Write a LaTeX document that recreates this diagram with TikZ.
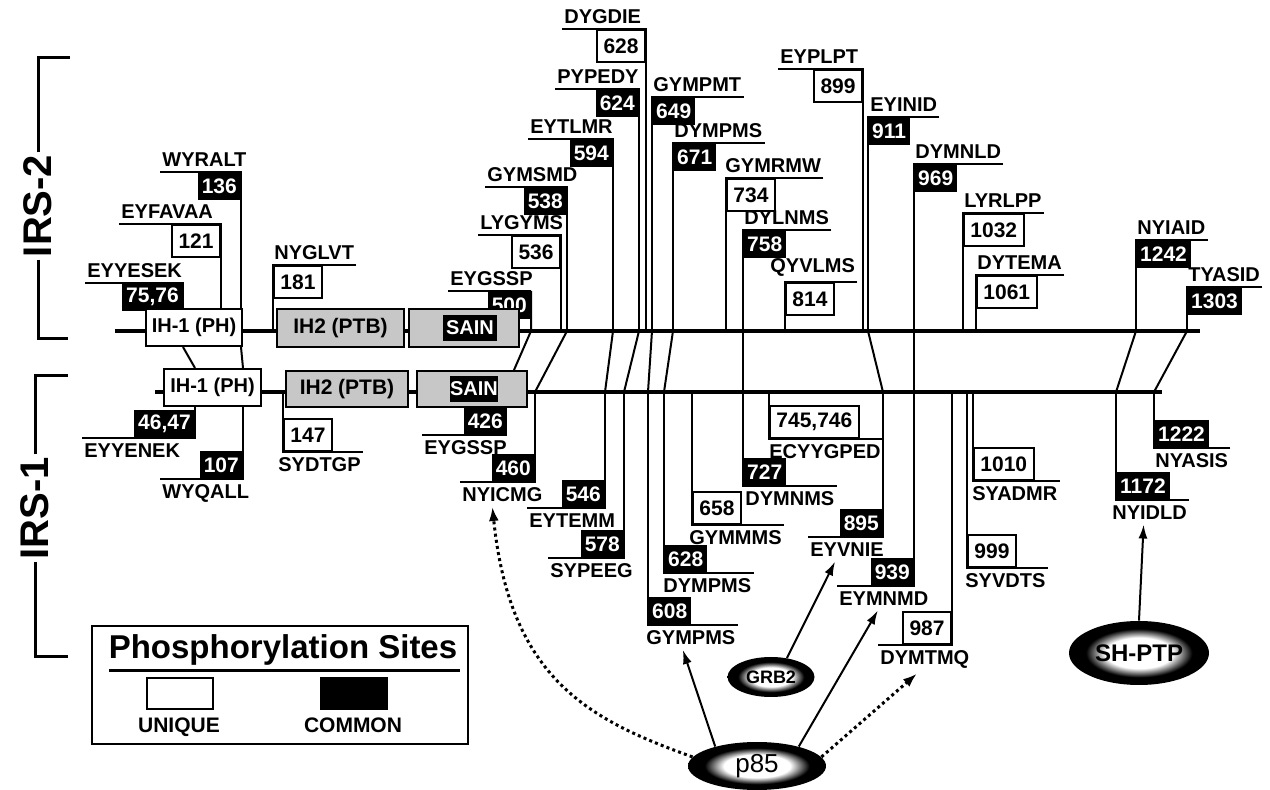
\documentclass[tikz,border=0pt]{standalone}
\usepackage{fontspec}
\setmainfont{Liberation Sans}
\usetikzlibrary{arrows.meta,shapes.geometric}

\pgfdeclareradialshading{blob}{\pgfpoint{0bp}{0bp}}{color(0bp)=(white); color(12bp)=(white); color(19bp)=(black); color(50bp)=(black)}

\tikzset{
  seq/.style={font=\fontsize{10}{12}\selectfont\bfseries, inner xsep=1pt, inner ysep=2.5pt},
  uniq/.style={draw, line width=1pt, fill=white, font=\fontsize{10.5}{12}\selectfont\bfseries, inner xsep=3.2pt, inner ysep=0pt, minimum height=16pt},
  comm/.style={draw, line width=1pt, fill=black, text=white, font=\fontsize{10.5}{12}\selectfont\bfseries, inner xsep=1.6pt, inner ysep=0pt, minimum height=13pt},
  site/.style={line width=1pt},
  bar/.style={line width=2pt},
  dom/.style={draw, line width=1pt, font=\fontsize{10}{12}\selectfont\bfseries, inner sep=0pt},
  blobnode/.style={ellipse, shading=blob, inner sep=0pt},
  arr/.style={line width=1pt, -{Latex[length=7pt,width=4.5pt]}},
  dotarr/.style={line width=1.5pt, dash pattern=on 1.5pt off 1.6pt, -{Latex[length=7pt,width=5pt]}},
}

\begin{document}
\begin{tikzpicture}[x=0.5pt, y=-0.5pt]
\useasboundingbox (0,0) rectangle (1270,790);
\coordinate (bar2) at (0,331);
\coordinate (bar1) at (0,392);
\draw[bar] (115,331) -- (1200,331);
\draw[bar] (155,392) -- (1162,392);

\node[comm, anchor=north east] (s136) at (241,172) {136};
\node[seq, anchor=south west] (l136) at (160,172) {WYRALT};
\draw[site] (l136.south west) -- (s136.north east) -- (s136.north east |- bar2);
\node[uniq, anchor=north east] (s121) at (221,224) {121};
\node[seq, anchor=south west] (l121) at (119,224) {EYFAVAA};
\draw[site] (l121.south west) -- (s121.north east) -- (s121.north east |- bar2);
\node[comm, anchor=north east] (s7576) at (183,283) {75,76};
\node[seq, anchor=south west] (l7576) at (85,283) {EYYESEK};
\draw[site] (l7576.south west) -- (s7576.north east) -- (s7576.north east |- bar2);
\node[uniq, anchor=north west] (s181) at (273,265) {181};
\node[seq, anchor=south west] (l181) at (272,265) {NYGLVT};
\draw[site] (l181.south east) -- (s181.north west) -- (s181.north west |- bar2);
\node[comm, anchor=north east] (s500) at (531,291) {500};
\node[seq, anchor=south west] (l500) at (448,291) {EYGSSP};
\draw[site] (l500.south west) -- (s500.north east);
\node[uniq, anchor=north east] (s536) at (561,235) {536};
\node[seq, anchor=south west] (l536) at (478,235) {LYGYMS};
\draw[site] (l536.south west) -- (s536.north east) -- (s536.north east |- bar2);
\node[comm, anchor=north east] (s538) at (567,187) {538};
\node[seq, anchor=south west] (l538) at (485,187) {GYMSMD};
\draw[site] (l538.south west) -- (s538.north east) -- (s538.north east |- bar2);
\node[comm, anchor=north east] (s594) at (613,139) {594};
\node[seq, anchor=south west] (l594) at (528,139) {EYTLMR};
\draw[site] (l594.south west) -- (s594.north east) -- (s594.north east |- bar2);
\node[comm, anchor=north east] (s624) at (639,89) {624};
\node[seq, anchor=south west] (l624) at (555,89) {PYPEDY};
\draw[site] (l624.south west) -- (s624.north east) -- (s624.north east |- bar2);
\node[uniq, anchor=north east] (s628) at (646,29) {628};
\node[seq, anchor=south west] (l628) at (562,29) {DYGDIE};
\draw[site] (l628.south west) -- (s628.north east) -- (s628.north east |- bar2);
\node[comm, anchor=north west] (s649) at (652,97) {649};
\node[seq, anchor=south west] (l649) at (651,97) {GYMPMT};
\draw[site] (l649.south east) -- (s649.north west) -- (s649.north west |- bar2);
\node[comm, anchor=north west] (s671) at (673,143) {671};
\node[seq, anchor=south west] (l671) at (672,143) {DYMPMS};
\draw[site] (l671.south east) -- (s671.north west) -- (s671.north west |- bar2);
\node[uniq, anchor=north west] (s734) at (726,178) {734};
\node[seq, anchor=south west] (l734) at (723,178) {GYMRMW};
\draw[site] (l734.south east) -- (s734.north west) -- (s734.north west |- bar2);
\node[comm, anchor=north west] (s758) at (743,230) {758};
\node[seq, anchor=south west] (l758) at (742,230) {DYLNMS};
\draw[site] (l758.south east) -- (s758.north west) -- (s758.north west |- bar2);
\node[uniq, anchor=north west] (s814) at (785,282) {814};
\node[seq, anchor=south west] (l814) at (768,282) {QYVLMS};
\draw[site] (l814.south east) -- (s814.north west) -- (s814.north west |- bar2);
\node[uniq, anchor=north east] (s899) at (863,69) {899};
\node[seq, anchor=south west] (l899) at (778,69) {EYPLPT};
\draw[site] (l899.south west) -- (s899.north east) -- (s899.north east |- bar2);
\node[comm, anchor=north west] (s911) at (868,117) {911};
\node[seq, anchor=south west] (l911) at (868,117) {EYINID};
\draw[site] (l911.south east) -- (s911.north west) -- (s911.north west |- bar2);
\node[comm, anchor=north west] (s969) at (914,164) {969};
\node[seq, anchor=south west] (l969) at (913,164) {DYMNLD};
\draw[site] (l969.south east) -- (s969.north west) -- (s969.north west |- bar2);
\node[uniq, anchor=north west] (s1032) at (963,213) {1032};
\node[seq, anchor=south west] (l1032) at (962,213) {LYRLPP};
\draw[site] (l1032.south east) -- (s1032.north west) -- (s1032.north west |- bar2);
\node[uniq, anchor=north west] (s1061) at (976,275) {1061};
\node[seq, anchor=south west] (l1061) at (975,275) {DYTEMA};
\draw[site] (l1061.south east) -- (s1061.north west) -- (s1061.north west |- bar2);
\node[comm, anchor=north west] (s1242) at (1136,240) {1242};
\node[seq, anchor=south west] (l1242) at (1135,240) {NYIAID};
\draw[site] (l1242.south east) -- (s1242.north west) -- (s1242.north west |- bar2);
\node[comm, anchor=north west] (s1303) at (1187,287) {1303};
\node[seq, anchor=south west] (l1303) at (1186,287) {TYASID};
\draw[site] (l1303.south east) -- (s1303.north west) -- (s1303.north west |- bar2);

\node[comm, anchor=south east] (s4647) at (195,438) {46,47};
\node[seq, anchor=north west] (l4647) at (82,438) {EYYENEK};
\draw[site] (l4647.north west) -- (s4647.south east) -- (s4647.north east |- bar1);
\node[comm, anchor=south east] (s107) at (243,479) {107};
\node[seq, anchor=north west] (l107) at (160,479) {WYQALL};
\draw[site] (l107.north west) -- (s107.south east) -- (s107.north east |- bar1);
\node[uniq, anchor=south west] (s147) at (283,452) {147};
\node[seq, anchor=north west] (l147) at (276,452) {SYDTGP};
\draw[site] (l147.north east) -- (s147.south west) -- (s147.north west |- bar1);
\node[comm, anchor=south east] (s426) at (507,435) {426};
\node[seq, anchor=north west] (l426) at (422,435) {EYGSSP};
\draw[site] (l426.north west) -- (s426.south east);
\node[comm, anchor=south east] (s460) at (535,482) {460};
\node[seq, anchor=north west] (l460) at (460,482) {NYICMG};
\draw[site] (l460.north west) -- (s460.south east) -- (s460.north east |- bar1);
\node[comm, anchor=south east] (s546) at (605,508) {546};
\node[seq, anchor=north west] (l546) at (527,508) {EYTEMM};
\draw[site] (l546.north west) -- (s546.south east) -- (s546.north east |- bar1);
\node[comm, anchor=south east] (s578) at (624,558) {578};
\node[seq, anchor=north west] (l578) at (548,558) {SYPEEG};
\draw[site] (l578.north west) -- (s578.south east) -- (s578.north east |- bar1);
\node[comm, anchor=south west] (s608) at (648,625) {608};
\node[seq, anchor=north west] (l608) at (644,625) {GYMPMS};
\draw[site] (l608.north east) -- (s608.south west) -- (s608.north west |- bar1);
\node[comm, anchor=south west] (s628b) at (664,573) {628};
\node[seq, anchor=north west] (l628b) at (661,573) {DYMPMS};
\draw[site] (l628b.north east) -- (s628b.south west) -- (s628b.north west |- bar1);
\node[uniq, anchor=south west] (s658) at (692,525) {658};
\node[seq, anchor=north west] (l658) at (687,525) {GYMMMS};
\draw[site] (l658.north east) -- (s658.south west) -- (s658.north west |- bar1);
\node[comm, anchor=south west] (s727) at (743,486) {727};
\node[seq, anchor=north west] (l727) at (743,486) {DYMNMS};
\draw[site] (l727.north east) -- (s727.south west) -- (s727.north west |- bar1);
\node[uniq, anchor=south west] (s745) at (769,439) {745,746};
\node[seq, anchor=north west] (l745) at (767,439) {ECYYGPED};
\draw[site] (l745.north east) -- (s745.south west) -- (s745.north west |- bar1);
\node[comm, anchor=south east] (s895) at (883,537) {895};
\node[seq, anchor=north west] (l895) at (808,537) {EYVNIE};
\draw[site] (l895.north west) -- (s895.south east) -- (s895.north east |- bar1);
\node[comm, anchor=south east] (s939) at (914,586) {939};
\node[seq, anchor=north west] (l939) at (837,586) {EYMNMD};
\draw[site] (l939.north west) -- (s939.south east) -- (s939.north east |- bar1);
\node[uniq, anchor=south east] (s987) at (952,645) {987};
\node[seq, anchor=north west] (l987) at (878,645) {DYMTMQ};
\draw[site] (l987.north west) -- (s987.south east) -- (s987.north east |- bar1);
\node[uniq, anchor=south west] (s999) at (967,568) {999};
\node[seq, anchor=north west] (l999) at (963,568) {SYVDTS};
\draw[site] (l999.north east) -- (s999.south west) -- (s999.north west |- bar1);
\node[uniq, anchor=south west] (s1010) at (973,481) {1010};
\node[seq, anchor=north west] (l1010) at (970,481) {SYADMR};
\draw[site] (l1010.north east) -- (s1010.south west) -- (s1010.north west |- bar1);
\node[comm, anchor=south west] (s1222) at (1154,448) {1222};
\node[seq, anchor=north west] (l1222) at (1153,448) {NYASIS};
\draw[site] (l1222.north east) -- (s1222.south west) -- (s1222.north west |- bar1);
\node[comm, anchor=south west] (s1172) at (1116,500) {1172};
\node[seq, anchor=north west] (l1172) at (1110,500) {NYIDLD};
\draw[site] (l1172.north east) -- (s1172.south west) -- (s1172.north west |- bar1);

\draw[site] (s538.north east |- bar2) -- (s460.north east |- bar1);
\draw[site] (s594.north east |- bar2) -- (s546.north east |- bar1);
\draw[site] (s624.north east |- bar2) -- (s578.north east |- bar1);
\draw[site] (s649.north west |- bar2) -- (s608.north west |- bar1);
\draw[site] (s671.north west |- bar2) -- (s628b.north west |- bar1);
\draw[site] (s758.north west |- bar2) -- (s727.north west |- bar1);
\draw[site] (s911.north west |- bar2) -- (s895.north east |- bar1);
\draw[site] (s969.north west |- bar2) -- (s939.north east |- bar1);
\draw[site] (s1242.north west |- bar2) -- (s1172.north west |- bar1);
\draw[site] (s1303.north west |- bar2) -- (s1222.north west |- bar1);

\node[dom, fill=white, minimum width=48pt, minimum height=18.5pt] (ph2) at (194,327.5) {IH-1 (PH)};
\node[dom, fill=black!22, minimum width=63.5pt, minimum height=19pt, font=\fontsize{10.5}{12}\selectfont\bfseries] (ptb2) at (340.5,328) {IH2 (PTB)};
\node[dom, fill=black!22, minimum width=55pt, minimum height=19pt] (sain2) at (464,328) {};
\node[fill=black, text=white, font=\fontsize{10}{12}\selectfont\bfseries, minimum width=27pt, minimum height=13pt, inner sep=0pt] (sn2) at (470,328) {SAIN};
\node[dom, fill=white, minimum width=48.5pt, minimum height=18.5pt] (ph1) at (212.5,387.5) {IH-1 (PH)};
\node[dom, fill=black!22, minimum width=61pt, minimum height=18pt, font=\fontsize{10.5}{12}\selectfont\bfseries] (ptb1) at (347,389) {IH2 (PTB)};
\node[dom, fill=black!22, minimum width=55pt, minimum height=18pt] (sain1) at (472,389) {};
\node[fill=black, text=white, font=\fontsize{10}{12}\selectfont\bfseries, minimum width=24pt, minimum height=13pt, inner sep=0pt] (sn1) at (474,389) {SAIN};

\draw[site] (s7576.north east |- ph2.south) -- (s4647.north east |- ph1.north);
\draw[site] (s136.north east |- ph2.south) -- (s107.north east |- ph1.north);
\draw[site] (s500.north east) -- (s500.north east |- bar2) -- ([xshift=-7pt]sain1.north east);

\node[rotate=90, fill=white, inner sep=1pt, font=\fontsize{20}{24}\selectfont\bfseries] (irs2) at (38,206) {IRS-2};
\draw[line width=1.5pt] (irs2.east) -- (38,58) -- (70,58);
\draw[line width=1.5pt] (irs2.west) -- (38,339) -- (68,339);
\node[rotate=90, fill=white, inner sep=1pt, font=\fontsize{20}{24}\selectfont\bfseries] (irs1) at (35,508) {IRS-1};
\draw[line width=1.5pt] (irs1.east) -- (35,376) -- (68,376);
\draw[line width=1.5pt] (irs1.west) -- (35,657) -- (68,657);

\node[draw, line width=1pt, minimum width=188pt, minimum height=59pt] (legend) at (280,685) {};
\node[anchor=base, font=\fontsize{16.5}{18}\selectfont\bfseries] (ltitle) at (283,659) {Phosphorylation Sites};
\draw[line width=1.5pt] (109,671) -- (460,671);
\node[draw, line width=1pt, minimum width=33pt, minimum height=15.5pt] (kuniq) at (180,693.5) {};
\node[draw, line width=1pt, fill=black, minimum width=33pt, minimum height=15.5pt] (kcomm) at (354,693.5) {};
\node[anchor=base, font=\fontsize{10.5}{12}\selectfont\bfseries] (luniq) at (179,733) {UNIQUE};
\node[anchor=base, font=\fontsize{10.5}{12}\selectfont\bfseries] (lcomm) at (353,733) {COMMON};

\node[blobnode, minimum width=69pt, minimum height=24pt, font=\fontsize{13}{14}\selectfont] (p85) at (757,766) {p85};
\node[blobnode, minimum width=43.5pt, minimum height=20pt, font=\fontsize{9}{10}\selectfont\bfseries] (grb2) at (771,677) {GRB2};
\node[blobnode, minimum width=70pt, minimum height=32pt, font=\fontsize{12}{13}\selectfont\bfseries] (shptp) at (1139,653) {SH-PTP};

\draw[arr] (p85.155) -- ([xshift=-4pt]l608.south);
\draw[arr] (p85.25) -- ([xshift=-3pt]l939.south);
\draw[dotarr] (p85.8) -- ([xshift=-4pt]l987.south);
\draw[dotarr] (p85.172) .. controls (590,720) and (510,680) .. ([xshift=-5pt]l460.south);
\draw[arr] (grb2.50) -- ([xshift=-6pt]l895.south);
\draw[arr] (shptp.north) -- ([xshift=-3pt]l1172.south);
\end{tikzpicture}
\end{document}
